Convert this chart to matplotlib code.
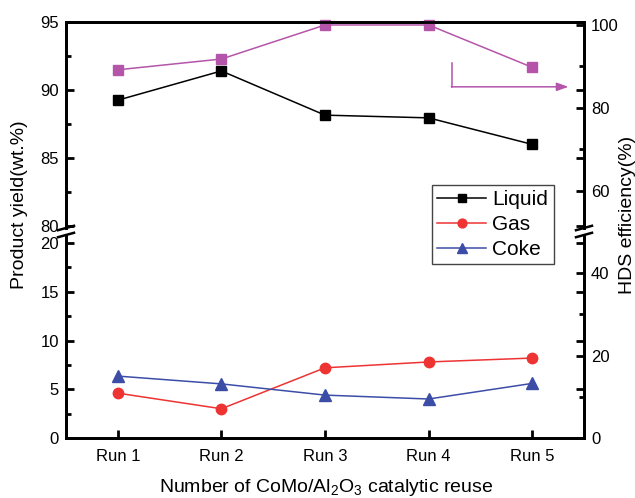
import matplotlib
matplotlib.use("Agg")
import matplotlib.pyplot as plt
from matplotlib.lines import Line2D
from matplotlib.ticker import FixedLocator

plt.rcParams['font.family'] = ['Liberation Sans', 'DejaVu Sans']
plt.rcParams['mathtext.fontset'] = 'custom'
plt.rcParams['mathtext.rm'] = 'Liberation Sans'
plt.rcParams['mathtext.default'] = 'regular'

# ---- data ----
runs = ['Run 1', 'Run 2', 'Run 3', 'Run 4', 'Run 5']
liquid = [89.25, 91.4, 88.15, 87.95, 86.0]
gas = [4.6, 3.0, 7.2, 7.8, 8.2]
coke = [6.35, 5.55, 4.4, 4.0, 5.6]
hds = [89.2, 91.8, 100.0, 100.0, 89.8]

top_left_ticks = [80, 85, 90, 95]
bot_left_ticks = [0, 5, 10, 15, 20]
top_right_ticks = [60, 80, 100]
bot_right_ticks = [0, 20, 40]

C_LIQ = '#000000'
C_GAS = '#EE3333'
C_COKE = '#3C4DA8'
C_HDS = '#B455AA'

W, H = 635, 498
fig = plt.figure(figsize=(W / 100, H / 100), dpi=100)

def fx(px):
    return px / W

def fy(py):
    return 1 - py / H

L, R = 66, 584
axT = fig.add_axes([fx(L), fy(228), fx(R) - fx(L), fy(22) - fy(228)])
axB = fig.add_axes([fx(L), fy(438), fx(R) - fx(L), fy(236) - fy(438)])
axTr = axT.twinx()
axBr = axB.twinx()

x = list(range(1, len(runs) + 1))
for a in (axT, axB, axTr, axBr):
    a.set_xlim(0.5, len(runs) + 0.5)
    for s in a.spines.values():
        s.set_linewidth(2.0)

axT.set_ylim(79.85, 95)
axTr.set_ylim(51.08, 100.72)
axB.set_ylim(0, 20.72)
axBr.set_ylim(0, 48.97)

axT.spines['bottom'].set_visible(False)
axTr.spines['bottom'].set_visible(False)
axB.spines['top'].set_visible(False)
axBr.spines['top'].set_visible(False)

lw = 1.1
lliq, = axT.plot(x, liquid, color=C_LIQ, marker='s', ms=7.5, lw=lw, clip_on=False, label='Liquid')
lhds, = axTr.plot(x, hds, color=C_HDS, marker='s', ms=7.5, lw=lw, clip_on=False)
lgas, = axB.plot(x, gas, color=C_GAS, marker='o', ms=7.5, lw=lw, clip_on=False, label='Gas')
lcoke, = axB.plot(x, coke, color=C_COKE, marker='^', ms=8, lw=lw, clip_on=False, label='Coke')

# ticks
axT.set_yticks(top_left_ticks)
axT.yaxis.set_minor_locator(FixedLocator([82.5, 87.5, 92.5]))
axB.set_yticks(bot_left_ticks)
axB.yaxis.set_minor_locator(FixedLocator([2.5, 7.5, 12.5, 17.5]))
axB.set_xticks(x)
axB.set_xticklabels(runs)
axTr.set_yticks(top_right_ticks)
axTr.yaxis.set_minor_locator(FixedLocator([70, 90]))
axBr.set_yticks(bot_right_ticks)
axBr.yaxis.set_minor_locator(FixedLocator([10, 30]))

axT.tick_params(axis='x', which='both', bottom=False, top=False, labelbottom=False)
for a in (axTr, axBr):
    a.tick_params(axis='x', which='both', bottom=False, top=False,
                  labelbottom=False, labeltop=False)

for a in (axT, axB):
    a.tick_params(axis='y', which='major', direction='in', length=6, width=2,
                  left=True, right=True, labelleft=True, labelright=False,
                  labelsize=12, pad=5)
    a.tick_params(axis='y', which='minor', direction='in', length=3.5, width=2,
                  left=True, right=False)
axB.tick_params(axis='x', which='major', direction='in', length=6, width=2,
                bottom=True, top=False, labelsize=12, pad=8)
for a in (axTr, axBr):
    a.tick_params(axis='y', which='major', direction='in', length=6, width=2,
                  left=False, right=True, labelright=True, labelsize=12, pad=5)
    a.tick_params(axis='y', which='minor', direction='in', length=3.5, width=2,
                  left=False, right=True)

# arrow pointing to right axis
axTr.plot([4.23, 4.23], [90.8, 85.1], color=C_HDS, lw=1.1)
axTr.annotate('', xy=(5.35, 85.1), xytext=(4.22, 85.1),
              arrowprops=dict(arrowstyle='-|>,head_length=0.7,head_width=0.25',
                              color=C_HDS, lw=1.1, shrinkA=0, shrinkB=0))

# break marks
for xs in (L, R):
    for yc in (228, 235):
        fig.add_artist(Line2D([fx(xs - 8), fx(xs + 8)], [fy(yc + 2.2), fy(yc - 2.2)],
                              color='black', lw=1.8))

# labels
fig.text(fx(20), fy(205), 'Product yield(wt.%)', rotation=90, ha='center', va='center', fontsize=14)
fig.text(fx(627), fy(215), 'HDS efficiency(%)', rotation=90, ha='center', va='center', fontsize=14)
fig.text(fx(326), fy(492), r'Number of CoMo/Al$_2$O$_3$ catalytic reuse', ha='center',
         va='baseline', fontsize=14)

leg = fig.legend([lliq, lgas, lcoke], ['Liquid', 'Gas', 'Coke'], loc='upper left',
                 bbox_to_anchor=(fx(432), fy(185)), borderaxespad=0, fontsize=15,
                 handlelength=2.35, handletextpad=0.3, labelspacing=0.28,
                 borderpad=0.25, fancybox=False, framealpha=1, markerscale=0.85)
leg.get_frame().set_edgecolor('#444444')
leg.get_frame().set_linewidth(1.0)

fig.savefig('out.png', dpi=100)
